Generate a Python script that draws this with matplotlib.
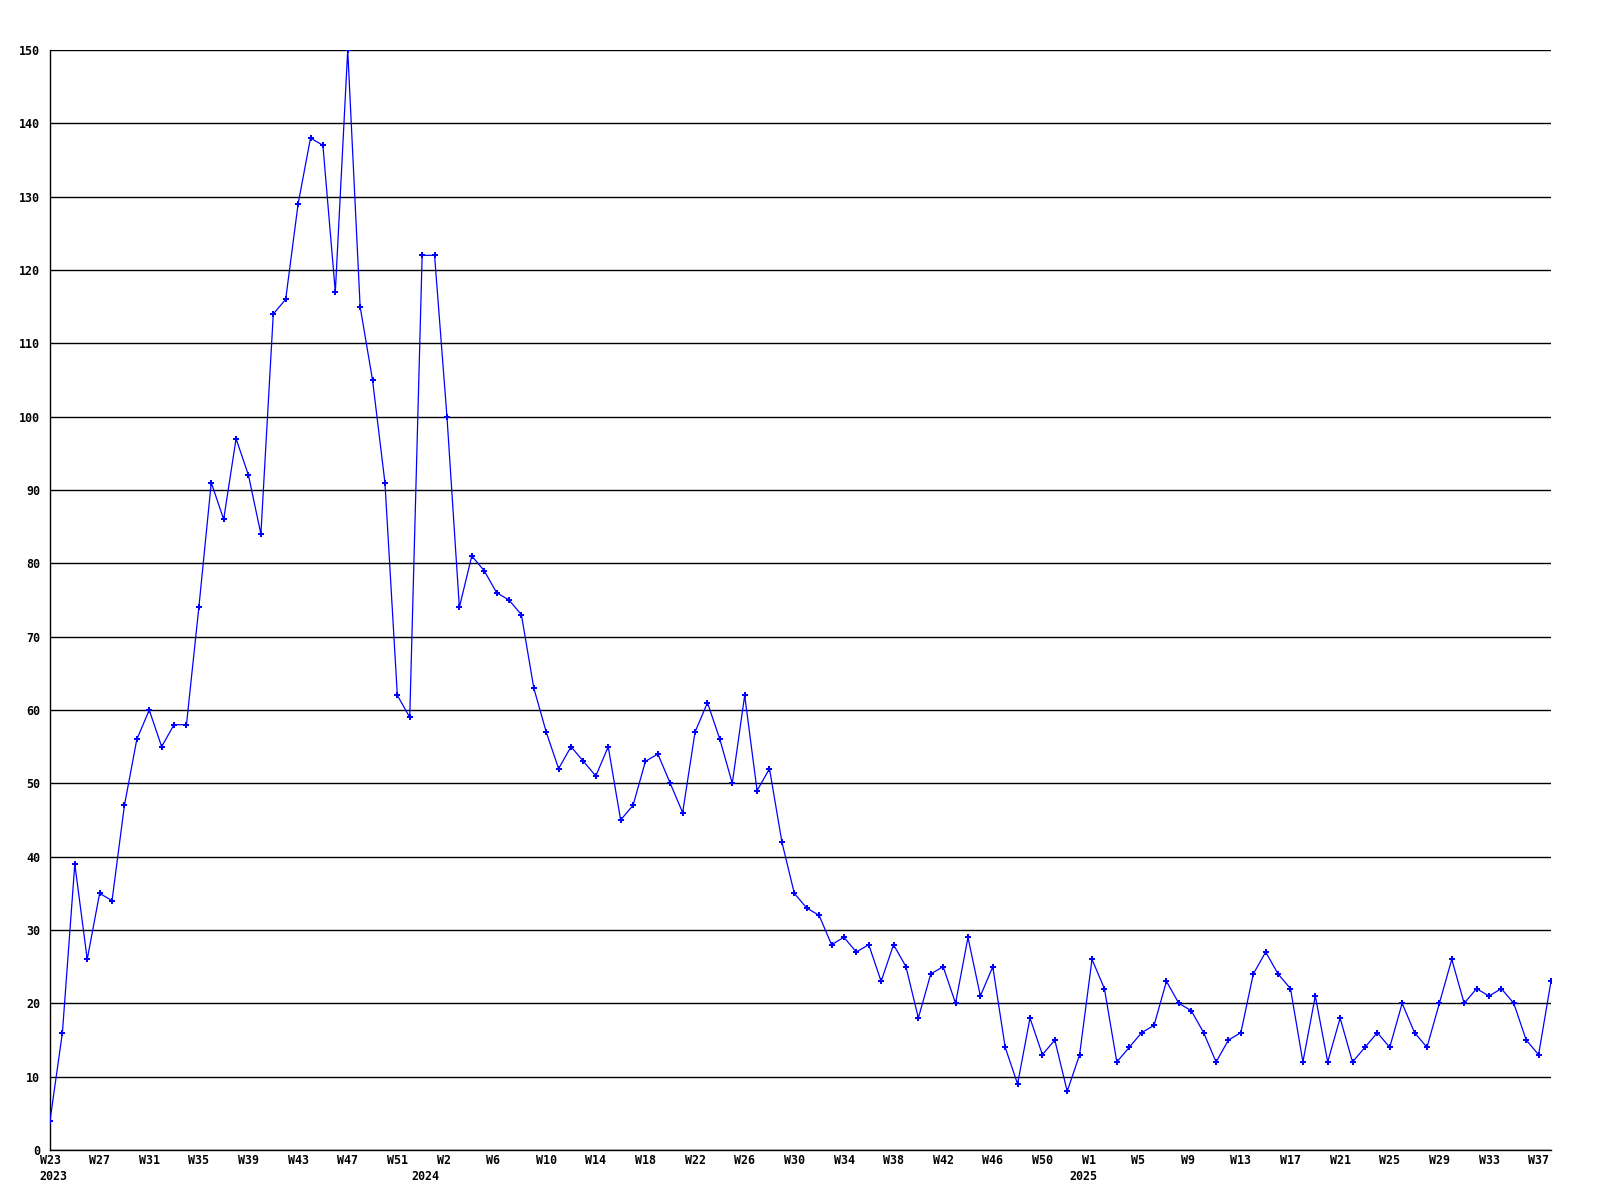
import matplotlib
matplotlib.use("Agg")
import matplotlib.pyplot as plt
from matplotlib.transforms import ScaledTranslation, blended_transform_factory

# ---------------------------------------------------------------------------
# Data (one value per week, starting 2023 W23)
# ---------------------------------------------------------------------------

COUNTS = [
    4, 16, 39, 26, 35, 34, 47, 56, 60, 55,
    58, 58, 74, 91, 86, 97, 92, 84, 114, 116,
    129, 138, 137, 117, 150, 115, 105, 91, 62, 59,
    122, 122, 100, 74, 81, 79, 76, 75, 73, 63,
    57, 52, 55, 53, 51, 55, 45, 47, 53, 54,
    50, 46, 57, 61, 56, 50, 62, 49, 52, 42,
    35, 33, 32, 28, 29, 27, 28, 23, 28, 25,
    18, 24, 25, 20, 29, 21, 25, 14, 9, 18,
    13, 15, 8, 13, 26, 22, 12, 14, 16, 17,
    23, 20, 19, 16, 12, 15, 16, 24, 27, 24,
    22, 12, 21, 12, 18, 12, 14, 16, 14, 20,
    16, 14, 20, 26, 20, 22, 21, 22, 20, 15,
    13, 23,
]

WEEK_LABELS_2023 = ["W23", "W27", "W31", "W35", "W39", "W43", "W47", "W51"]
WEEK_LABELS_2024 = ["W2", "W6", "W10", "W14", "W18", "W22", "W26", "W30",
                    "W34", "W38", "W42", "W46", "W50"]
WEEK_LABELS_2025 = ["W1", "W5", "W9", "W13", "W17", "W21", "W25", "W29",
                    "W33", "W37"]
YEARS = ["2023", "2024", "2025"]

# index of the first labelled week / year start in each year
WEEK_START = [0, 32, 84]
YEAR_START = [0, 30, 83]

# ---------------------------------------------------------------------------
# Plot
# ---------------------------------------------------------------------------

FONT = dict(family="DejaVu Sans Mono", weight="bold", size=8.4)

fig = plt.figure(figsize=(16, 12), dpi=100)
ax = fig.add_axes([50 / 1600, 50 / 1200, 1501 / 1600, 1100 / 1200])

xs = list(range(len(COUNTS)))
ax.plot(xs, COUNTS, "-", color="#0000ff", linewidth=0.9,
        marker="P", markersize=4.5, markeredgewidth=0, zorder=3)

ax.set_xlim(0, len(COUNTS) - 1)
ax.set_ylim(0, 150)

# horizontal grid
ax.set_yticks(range(0, 151, 10))
ax.yaxis.grid(True, color="black", linewidth=1.0)
ax.set_axisbelow(True)
ax.tick_params(axis="y", length=0, pad=7.2)
for lbl in ax.get_yticklabels():
    lbl.set(**FONT)
ax.set_xticks([])

for side in ("top", "right"):
    ax.spines[side].set_visible(False)
for side in ("left", "bottom"):
    ax.spines[side].set_color("black")
    ax.spines[side].set_linewidth(1.0)

# x labels: left-aligned, shifted ~10 px left of their week
trans = blended_transform_factory(ax.transData, fig.transFigure) + \
    ScaledTranslation(-10.4 / 100, 0, fig.dpi_scale_trans)

for start, labels in zip(WEEK_START, [WEEK_LABELS_2023, WEEK_LABELS_2024, WEEK_LABELS_2025]):
    for i, lab in enumerate(labels):
        ax.text(start + 4 * i, 1 - 1161 / 1200, lab, transform=trans,
                ha="left", va="center", **FONT)

for start, year in zip(YEAR_START, YEARS):
    ax.text(start, 1 - 1177 / 1200, year, transform=trans,
            ha="left", va="center", **FONT)

fig.savefig("out.png", dpi=100, facecolor="white")
